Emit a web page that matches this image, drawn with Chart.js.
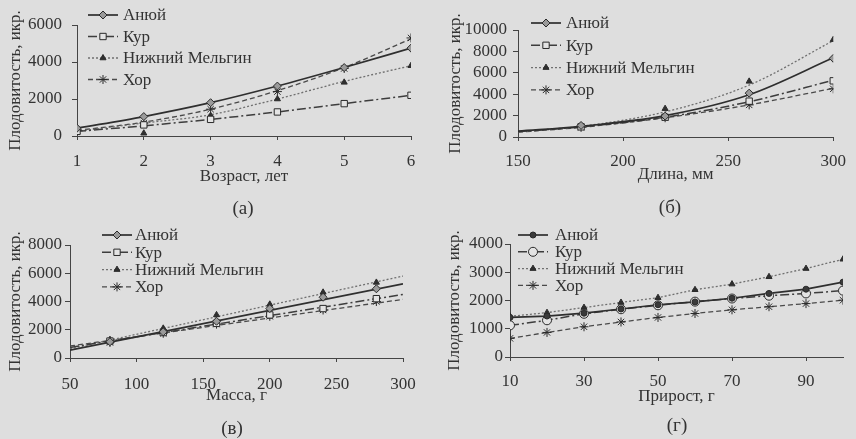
<!DOCTYPE html>
<html lang="ru">
<head>
<meta charset="UTF-8">
<title>Плодовитость</title>
<script src="https://cdn.jsdelivr.net/npm/chart.js@4"></script>
<style>
  html, body { margin: 0; padding: 0; background: #dedede; }
  body { width: 856px; height: 439px; position: relative; overflow: hidden;
         font-family: "Liberation Serif", serif; color: #333; }
  canvas { position: absolute; }
  .tag { position: absolute; font-size: 19px; transform: translate(-50%, -50%); }
</style>
</head>
<body>
<canvas id="chartA" width="428" height="220" style="left:0;top:0"></canvas>
<canvas id="chartB" width="428" height="220" style="left:428px;top:0"></canvas>
<canvas id="chartC" width="428" height="219" style="left:0;top:220px"></canvas>
<canvas id="chartD" width="428" height="219" style="left:428px;top:220px"></canvas>
<div class="tag" style="left:243px;top:208px">(а)</div>
<div class="tag" style="left:670px;top:207px">(б)</div>
<div class="tag" style="left:232px;top:428px">(в)</div>
<div class="tag" style="left:677px;top:425px">(г)</div>

<script>
const seriesNames = ['Анюй', 'Кур', 'Нижний Мельгин', 'Хор'];
const yTitle = 'Плодовитость, икр.';

// (а) fecundity by age
const ageX = [1, 2, 3, 4, 5, 6];
const ageTicksX = [1, 2, 3, 4, 5, 6];
const ageTicksY = [0, 2000, 4000, 6000];
const ageAnyuy = [420, 1050, 1800, 2700, 3700, 4750];
const ageKur = [250, 600, 900, 1300, 1750, 2200];
const ageMelgin = [300, 150, 1100, 2000, 2900, 3800];
const ageKhor = [300, 700, 1450, 2400, 3650, 5300];
const ageTrendAnyuy = [420, 1050, 1800, 2700, 3700, 4750];
const ageTrendKur = [250, 550, 900, 1300, 1750, 2200];
const ageTrendMelgin = [250, 700, 1150, 2000, 2950, 3800];
const ageTrendKhor = [300, 750, 1450, 2450, 3700, 5250];

// (б) fecundity by length
const lenX = [180, 220, 260, 300];
const lenTrendX = [150, 180, 220, 260, 300];
const lenTicksX = [150, 200, 250, 300];
const lenTicksY = [0, 2000, 4000, 6000, 8000, 10000];
const lenAnyuy = [1080, 1950, 4100, 7350];
const lenKur = [950, 1850, 3350, 5250];
const lenMelgin = [1050, 2650, 5200, 9100];
const lenKhor = [900, 1800, 3000, 4500];
const lenTrendAnyuy = [550, 1000, 2000, 3950, 7400];
const lenTrendKur = [500, 950, 1850, 3300, 5300];
const lenTrendMelgin = [500, 1000, 2350, 4850, 9000];
const lenTrendKhor = [450, 900, 1800, 3000, 4550];

// (в) fecundity by mass
const massX = [80, 120, 160, 200, 240, 280];
const massTrendX = [50, 300];
const massTicksX = [50, 100, 150, 200, 250, 300];
const massTicksY = [0, 2000, 4000, 6000, 8000];
const massAnyuy = [1150, 1850, 2600, 3500, 4300, 4900];
const massKur = [1200, 1800, 2450, 3050, 3500, 4200];
const massMelgin = [1300, 2100, 3050, 3800, 4650, 5350];
const massKhor = [1100, 1750, 2400, 2950, 3400, 4000];
const massTrendAnyuy = [550, 5250];
const massTrendKur = [750, 4500];
const massTrendMelgin = [650, 5800];
const massTrendKhor = [850, 4150];

// (г) fecundity by weight gain
const gainX = [10, 20, 30, 40, 50, 60, 70, 80, 90, 100];
const gainTicksX = [10, 30, 50, 70, 90];
const gainTicksY = [0, 1000, 2000, 3000, 4000];
const gainAnyuy = [1400, 1450, 1550, 1700, 1850, 1950, 2080, 2250, 2400, 2650];
const gainKur = [1120, 1300, 1530, 1690, 1830, 1960, 2070, 2170, 2250, 2350];
const gainMelgin = [1440, 1570, 1750, 1930, 2100, 2380, 2580, 2840, 3130, 3460];
const gainKhor = [660, 870, 1070, 1240, 1400, 1540, 1670, 1780, 1890, 2010];

const ink = '#333';
const markerInk = '#2a2a2a';
const font = 'Liberation Serif';

const styles = [
  { color: '#2f2f2f', width: 1.7, dash: [], point: 'rectRot', radius: 4, fill: '#9a9a9a' },
  { color: '#3d3d3d', width: 1.5, dash: [9, 3, 2, 3], point: 'rect', radius: 4.5, fill: '#e4e4e4' },
  { color: '#707070', width: 1.3, dash: [2, 2], point: 'triangle', radius: 3.5, fill: '#2f2f2f' },
  { color: '#4a4a4a', width: 1.3, dash: [5, 3], point: 'star', radius: 4.5, fill: '#4a4a4a' }
];

// legend drawn by hand: dashed sample line with the marker in its middle
function makeLegend(items, o) {
  return {
    id: 'lineLegend',
    afterDraw(chart) {
      const ctx = chart.ctx;
      ctx.save();
      ctx.font = '17px "' + font + '"';
      ctx.textBaseline = 'middle';
      items.forEach((it, i) => {
        const y = o.y + i * o.gap;
        ctx.strokeStyle = it.color;
        ctx.lineWidth = it.width;
        ctx.setLineDash(it.dash);
        ctx.beginPath();
        ctx.moveTo(o.x, y);
        ctx.lineTo(o.x + o.len, y);
        ctx.stroke();
        ctx.setLineDash([]);
        ctx.fillStyle = it.fill;
        ctx.strokeStyle = markerInk;
        ctx.lineWidth = 1;
        Chart.helpers.drawPoint(ctx, { pointStyle: it.point, radius: it.radius, rotation: 0, borderWidth: 1 }, o.x + o.len / 2, y);
        ctx.fillStyle = ink;
        ctx.fillText(it.label, o.textX, y + 1);
      });
      ctx.restore();
    }
  };
}

function buildPanel(id, p) {
  const datasets = [];
  const items = [];
  p.series.forEach((s, i) => {
    const st = Object.assign({}, styles[i], (p.over || {})[i]);
    items.push(Object.assign({ label: seriesNames[i] }, st));
    datasets.push({
      data: p.x.map((x, k) => ({ x: x, y: s.values[k] })),
      showLine: false,
      order: 0,
      pointStyle: st.point,
      pointRadius: st.radius,
      pointBackgroundColor: st.fill,
      pointBorderColor: markerInk,
      pointBorderWidth: 1
    });
    datasets.push({
      data: p.trendX.map((x, k) => ({ x: x, y: s.trend[k] })),
      order: 1,
      borderColor: st.color,
      borderWidth: st.width,
      borderDash: st.dash,
      pointRadius: 0,
      fill: false,
      tension: 0,
      cubicInterpolationMode: p.smooth ? 'monotone' : 'default'
    });
  });

  const a = p.area;
  const W = p.w, H = p.h;
  new Chart(document.getElementById(id), {
    type: 'line',
    data: { datasets: datasets },
    plugins: [makeLegend(items, p.legend)],
    options: {
      responsive: false,
      animation: false,
      layout: { padding: { left: p.padL, right: W - a.right, top: a.top, bottom: H - a.bottom - p.xHeight } },
      plugins: { legend: { display: false }, tooltip: { enabled: false } },
      scales: {
        x: {
          type: 'linear',
          min: p.xMin,
          max: p.xMax,
          afterBuildTicks: s => { s.ticks = p.xTicks.map(v => ({ value: v })); },
          afterFit: s => { s.height = p.xHeight; },
          grid: { drawOnChartArea: false, tickLength: 4, color: '#444' },
          border: { color: '#444', width: 1 },
          ticks: { autoSkip: false, maxRotation: 0, padding: p.xPad, color: ink,
                   font: { family: font, size: 17 }, callback: v => String(v) },
          title: { display: true, text: p.xTitle, color: ink, font: { family: font, size: 17 }, padding: 0 }
        },
        y: {
          min: 0,
          max: p.yTicks[p.yTicks.length - 1],
          afterBuildTicks: s => { s.ticks = p.yTicks.map(v => ({ value: v })); },
          afterFit: s => { s.width = a.left - p.padL; },
          grid: { drawOnChartArea: false, tickLength: 5, color: '#444' },
          border: { color: '#444', width: 1 },
          ticks: { autoSkip: false, padding: p.yPad, color: ink,
                   font: { family: font, size: 17 }, callback: v => String(v) },
          title: { display: true, text: yTitle, color: ink, font: { family: font, size: 17 }, padding: 0 }
        }
      }
    }
  });
}

buildPanel('chartA', {
  w: 428, h: 220, area: { left: 77, right: 411, top: 25, bottom: 136 },
  padL: 5, xHeight: 51, xPad: 11, yPad: 10, smooth: true,
  x: ageX, trendX: ageX, xMin: 1, xMax: 6, xTicks: ageTicksX, yTicks: ageTicksY,
  xTitle: 'Возраст, лет',
  series: [
    { values: ageAnyuy, trend: ageTrendAnyuy },
    { values: ageKur, trend: ageTrendKur },
    { values: ageMelgin, trend: ageTrendMelgin },
    { values: ageKhor, trend: ageTrendKhor }
  ],
  legend: { x: 88, len: 30, textX: 123, y: 15, gap: 21.5 }
});

buildPanel('chartB', {
  w: 428, h: 220, area: { left: 90, right: 413, top: 30, bottom: 137 },
  padL: 17, xHeight: 48, xPad: 10, yPad: 6, smooth: true,
  x: lenX, trendX: lenTrendX, xMin: 150, xMax: 300, xTicks: lenTicksX, yTicks: lenTicksY,
  xTitle: 'Длина, мм',
  series: [
    { values: lenAnyuy, trend: lenTrendAnyuy },
    { values: lenKur, trend: lenTrendKur },
    { values: lenMelgin, trend: lenTrendMelgin },
    { values: lenKhor, trend: lenTrendKhor }
  ],
  legend: { x: 103, len: 30, textX: 138, y: 23, gap: 22.3 }
});

buildPanel('chartC', {
  w: 428, h: 219, area: { left: 70, right: 403, top: 25, bottom: 138 },
  padL: 5, xHeight: 48, xPad: 12, yPad: 3, smooth: false,
  x: massX, trendX: massTrendX, xMin: 50, xMax: 300, xTicks: massTicksX, yTicks: massTicksY,
  xTitle: 'Масса, г',
  series: [
    { values: massAnyuy, trend: massTrendAnyuy },
    { values: massKur, trend: massTrendKur },
    { values: massMelgin, trend: massTrendMelgin },
    { values: massKhor, trend: massTrendKhor }
  ],
  legend: { x: 102, len: 30, textX: 135, y: 15, gap: 17.3 }
});

buildPanel('chartD', {
  w: 428, h: 219, area: { left: 82, right: 415, top: 24, bottom: 137 },
  padL: 16, xHeight: 50, xPad: 10, yPad: 2, smooth: false,
  x: gainX, trendX: gainX, xMin: 10, xMax: 100, xTicks: gainTicksX, yTicks: gainTicksY,
  xTitle: 'Прирост, г',
  series: [
    { values: gainAnyuy, trend: gainAnyuy },
    { values: gainKur, trend: gainKur },
    { values: gainMelgin, trend: gainMelgin },
    { values: gainKhor, trend: gainKhor }
  ],
  over: { 0: { point: 'circle', radius: 3, fill: '#3a3a3a' }, 1: { point: 'circle', radius: 4.5, fill: '#e4e4e4' } },
  legend: { x: 90, len: 30, textX: 127, y: 15, gap: 16.8 }
});
</script>
</body>
</html>
